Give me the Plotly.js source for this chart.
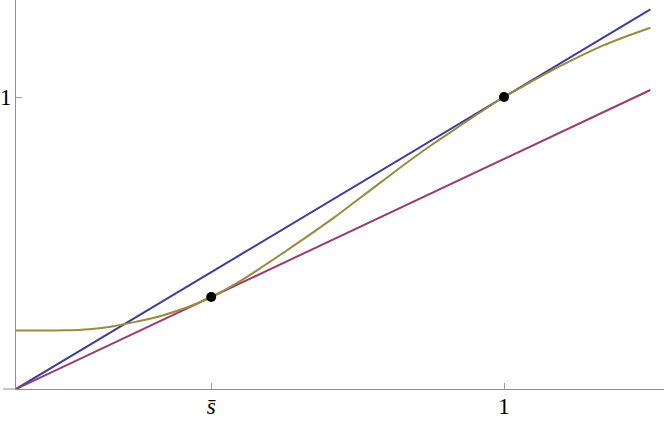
<!DOCTYPE html>
<html>
<head>
<meta charset="utf-8">
<script src="https://cdn.plot.ly/plotly-3.0.1.min.js"></script>
<style>html,body{margin:0;padding:0;background:#fff;}#chart{width:664px;height:422px;}</style>
</head>
<body>
<div id="chart"></div>
<script>
// Straight lines
var lineX = [0, 1.3];
var blueY = [0, 1.3];
var magentaY = [0, 1.024];

// Olive curve
var curveX = [0, 0.05, 0.10, 0.15, 0.20, 0.25, 0.30, 0.35, 0.40, 0.45, 0.50, 0.55, 0.60, 0.65, 0.70, 0.75, 0.80, 0.85, 0.90, 0.95, 1.00, 1.05, 1.10, 1.15, 1.20, 1.25, 1.30];
var curveY = [0.200, 0.200, 0.201, 0.205, 0.215, 0.232, 0.252, 0.279, 0.315, 0.360, 0.413, 0.469, 0.526, 0.585, 0.648, 0.711, 0.774, 0.834, 0.890, 0.946, 1.000, 1.047, 1.093, 1.135, 1.174, 1.207, 1.237];

// Marked points
var pointX = [0.4, 1.0];
var pointY = [0.315, 1.0];

// Tick labels
var xTickVals = [0.4, 1];
var xTickText = ['<i>s\u0304</i>', '1'];
var yTickVals = [1];
var yTickText = ['1'];

var traces = [
  {x: lineX, y: blueY, mode: 'lines', line: {color: '#3d3d99', width: 2}, hoverinfo: 'skip'},
  {x: lineX, y: magentaY, mode: 'lines', line: {color: '#993d71', width: 2}, hoverinfo: 'skip'},
  {x: curveX, y: curveY, mode: 'lines', line: {color: '#998b3d', width: 2, shape: 'spline', smoothing: 1}, hoverinfo: 'skip'},
  {x: pointX, y: pointY, mode: 'markers', marker: {color: '#000', size: 10}, hoverinfo: 'skip'}
];

var axisColor = '#909090';
var tickFont = {family: 'Liberation Serif, serif', size: 23, color: '#000'};
var layout = {
  width: 664, height: 422,
  margin: {l: 16, r: 0, t: 0, b: 33, pad: 0},
  paper_bgcolor: '#fff', plot_bgcolor: '#fff',
  showlegend: false,
  font: tickFont,
  xaxis: {
    range: [0, 648/488], showgrid: false, zeroline: false,
    showline: true, linecolor: axisColor, linewidth: 1,
    ticks: 'inside', ticklen: 6, tickcolor: '#a0a0a0', tickwidth: 1,
    tickmode: 'array', tickvals: xTickVals, ticktext: xTickText,
    tickfont: tickFont, ticklabelstandoff: -4
  },
  yaxis: {
    range: [0, 389/292], showgrid: false, zeroline: false,
    showline: true, linecolor: axisColor, linewidth: 1,
    ticks: 'inside', ticklen: 6, tickcolor: '#a0a0a0', tickwidth: 1,
    tickmode: 'array', tickvals: yTickVals, ticktext: yTickText,
    tickfont: tickFont, ticklabelstandoff: -1
  },
  shapes: [
    {type: 'line', xref: 'paper', yref: 'paper', x0: -13/648, x1: 0, y0: 0, y1: 0, line: {color: axisColor, width: 1}}
  ]
};

Plotly.newPlot('chart', traces, layout, {displayModeBar: false, staticPlot: true});
</script>
</body>
</html>
